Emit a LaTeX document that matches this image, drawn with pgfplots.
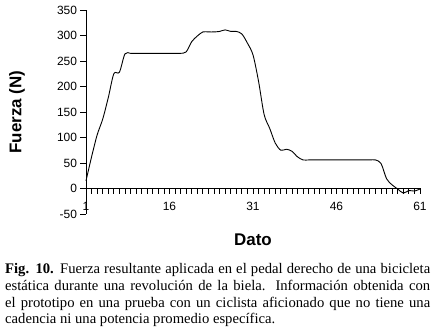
\documentclass[border=0pt]{standalone}
\usepackage{pgfplots}
\pgfplotsset{compat=1.18}
\usepackage{fontspec}
\setmainfont{Liberation Sans}
\newfontfamily\capfont{Liberation Serif}
\pgfplotstableread{
x y
1 15
2 62
3 105
4 136
5 178
6 225
7 228
8 264
9 265
10 265
11 265
12 265
13 265
14 265
15 265
16 265
17 265
18 265
19 268
20 288
21 299
22 307
23 307
24 307
25 308
26 311
27 308
28 308
29 303
30 285
31 262
32 210
33 145
34 118
35 89
36 75
37 77
38 73
39 62
40 56
41 56
42 56
43 56
44 56
45 56
46 56
47 56
48 56
49 56
50 56
51 56
52 56
53 56
54 49
55 19
56 7
57 -1
58 -9
59 -4
60 -5
61 -1
}\fuerza
\begin{document}
\begin{tikzpicture}
\path[use as bounding box] (0,0) rectangle (436bp,335bp);
\begin{axis}[
  at={(86bp,121bp)}, anchor=south west,
  scale only axis, width=334bp, height=204bp,
  xmin=1, xmax=61, ymin=-50, ymax=350,
  axis y line*=left, axis x line*=middle,
  axis line style={black, line width=0.8bp},
  xtick={1,16,31,46,61}, minor x tick num=14,
  ytick={-50,0,...,350},
  tick align=outside,
  major tick length=5.5bp, minor tick length=5.5bp,
  tick style={black, line width=0.8bp},
  hide obscured x ticks=false, hide obscured y ticks=false,
  /pgf/number format/assume math mode=true,
  ticklabel style={font=\fontsize{12}{14}\selectfont},
  xticklabel style={yshift=-5bp},
  xlabel={Dato}, ylabel={Fuerza (N)},
  label style={font=\bfseries\fontsize{17}{20}\selectfont},
  xlabel style={at={(axis description cs:0.5,-0.1275)}, anchor=center},
  ylabel style={at={(axis description cs:-0.2066,0.5)}, anchor=center},
  clip=false,
]
\addplot[black, line width=0.9bp, smooth] table {\fuerza};
\end{axis}
\node[anchor=base west, text width=425bp, inner sep=0pt, align=justify,
  font=\capfont\fontsize{14.7}{16.7}\selectfont] at (5bp,61bp)
  {\textbf{Fig. 10.} Fuerza resultante aplicada en el pedal derecho de una bicicleta\linebreak
   estática durante una revolución de la biela. Información obtenida con\linebreak
   el prototipo en una prueba con un ciclista aficionado que no tiene una\linebreak
   cadencia ni una potencia promedio específica.};
\end{tikzpicture}
\end{document}
